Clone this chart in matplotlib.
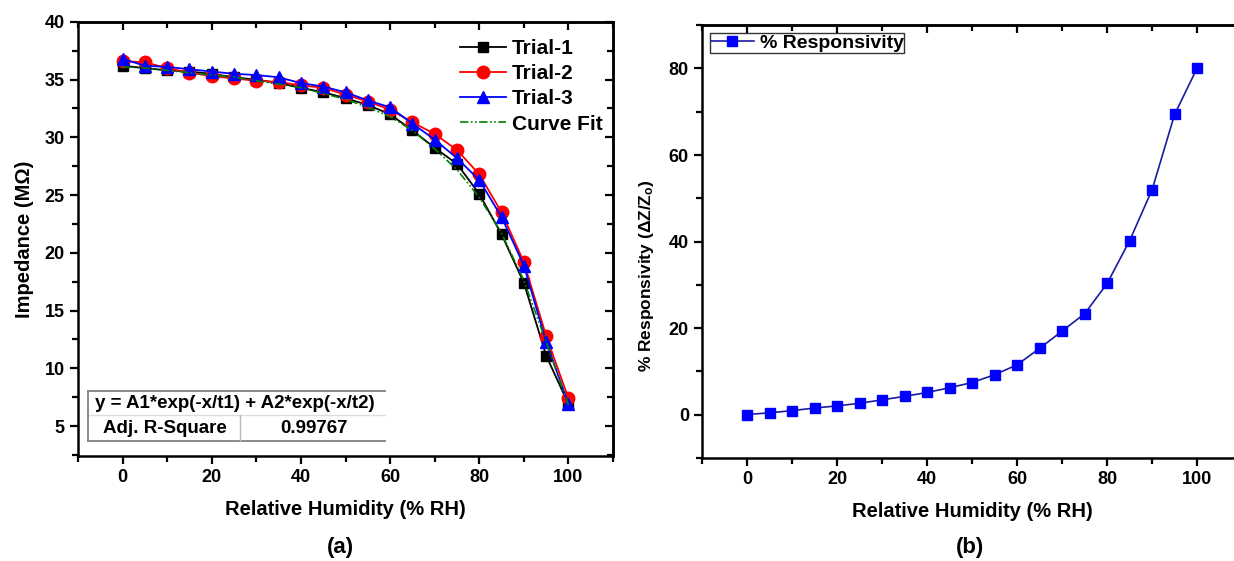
import numpy as np
import matplotlib
matplotlib.use("Agg")
import matplotlib.pyplot as plt
from matplotlib.ticker import MultipleLocator

plt.rcParams['font.family'] = ['Liberation Sans', 'DejaVu Sans']
plt.rcParams['font.weight'] = 'bold'
plt.rcParams['axes.labelweight'] = 'bold'
plt.rcParams['mathtext.fontset'] = 'custom'
plt.rcParams['mathtext.rm'] = 'Liberation Sans:bold'
plt.rcParams['mathtext.default'] = 'rm'

# data
rh = [0, 5, 10, 15, 20, 25, 30, 35, 40, 45, 50, 55, 60, 65, 70, 75, 80, 85, 90, 95, 100]
trial1 = [36.2, 36.0, 35.8, 35.7, 35.5, 35.2, 35.0, 34.7, 34.3, 33.9, 33.4, 32.8, 32.0,
          30.6, 29.1, 27.7, 25.1, 21.6, 17.4, 11.1, 6.9]
trial2 = [36.6, 36.5, 36.0, 35.6, 35.3, 35.1, 34.9, 34.8, 34.5, 34.3, 33.7, 33.1, 32.4,
          31.3, 30.3, 28.9, 26.8, 23.5, 19.2, 12.8, 7.4]
trial3 = [36.8, 36.2, 36.1, 35.9, 35.7, 35.5, 35.4, 35.2, 34.7, 34.4, 33.9, 33.2, 32.6,
          31.2, 29.8, 28.2, 26.3, 23.1, 18.9, 12.3, 6.9]
fit = [36.1, 36.0, 35.8, 35.6, 35.4, 35.2, 34.9, 34.6, 34.3, 33.8, 33.3, 32.6, 31.8,
       30.6, 29.0, 27.2, 24.8, 21.7, 17.6, 12.3, 6.8]
resp = [0.0, 0.4, 0.9, 1.5, 2.0, 2.6, 3.4, 4.2, 5.1, 6.2, 7.4, 9.2, 11.5, 15.3, 19.3,
        23.3, 30.3, 40.2, 52.0, 69.4, 80.1]

fig = plt.figure(figsize=(12.34, 5.61), dpi=100)
ax1 = fig.add_axes([0.0632, 0.187, 0.4336, 0.774])
ax2 = fig.add_axes([0.569, 0.184, 0.4376, 0.771])


def style(ax, ystep, yminor):
    for s in ax.spines.values():
        s.set_linewidth(1.8)
    ax.xaxis.set_major_locator(MultipleLocator(20))
    ax.xaxis.set_minor_locator(MultipleLocator(10))
    ax.yaxis.set_major_locator(MultipleLocator(ystep))
    ax.yaxis.set_minor_locator(MultipleLocator(yminor))
    ax.tick_params(which='major', direction='out', length=6, width=1.6, labelsize=13)
    ax.tick_params(which='minor', direction='out', length=4, width=1.6)
    top = ax.secondary_xaxis('top')
    right = ax.secondary_yaxis('right')
    top.xaxis.set_major_locator(MultipleLocator(20))
    top.xaxis.set_minor_locator(MultipleLocator(10))
    right.yaxis.set_major_locator(MultipleLocator(ystep))
    right.yaxis.set_minor_locator(MultipleLocator(yminor))
    for sec in (top, right):
        sec.tick_params(which='major', direction='in', length=6, width=1.6,
                        labeltop=False, labelright=False)
        sec.tick_params(which='minor', direction='in', length=4, width=1.6)
        for s in sec.spines.values():
            s.set_linewidth(1.8)
    for lab in ax.get_xticklabels() + ax.get_yticklabels():
        lab.set_fontweight('bold')


# (a) impedance
ax1.plot(rh, trial1, color='black', marker='s', ms=7.5, lw=1.3, label='Trial-1')
ax1.plot(rh, trial2, color='red', marker='o', ms=9, lw=1.3, label='Trial-2')
ax1.plot(rh, trial3, color='blue', marker='^', ms=9, lw=1.3, label='Trial-3')
ax1.plot(rh, fit, color='green', ls=(0, (5, 1.5, 1, 1.5, 1, 1.5)), lw=1.2, label='Curve Fit')
ax1.set_xlim(-10, 110)
ax1.set_ylim(2.4, 40)
style(ax1, 5, 2.5)
ax1.set_xlabel('Relative Humidity (% RH)', fontsize=14.5, labelpad=10)
ax1.set_ylabel('Impedance (M\u03a9)', fontsize=14.5, labelpad=8)
ax1.legend(loc='upper right', bbox_to_anchor=(1.0, 0.985), frameon=False, fontsize=15,
           handlelength=2.2, labelspacing=0.3, borderaxespad=0.1, handletextpad=0.3)

# fit table
tl = ax1.transAxes
ax1.plot([0.0187, 0.574], [0.150, 0.150], color='gray', lw=1.3, transform=tl)
ax1.plot([0.0187, 0.574], [0.0945, 0.0945], color='#dddddd', lw=1.0, transform=tl)
ax1.plot([0.0187, 0.574], [0.0346, 0.0346], color='gray', lw=1.3, transform=tl)
ax1.plot([0.0187, 0.0187], [0.0346, 0.150], color='gray', lw=1.3, transform=tl)
ax1.plot([0.303, 0.303], [0.0346, 0.0945], color='#bbbbbb', lw=1.0, transform=tl)
ax1.text(0.293, 0.121, 'y = A1*exp(-x/t1) + A2*exp(-x/t2)', transform=tl,
         ha='center', va='center', fontsize=13.5, fontweight='bold')
ax1.text(0.163, 0.064, 'Adj. R-Square', transform=tl, ha='center', va='center',
         fontsize=13.5, fontweight='bold')
ax1.text(0.441, 0.064, '0.99767', transform=tl, ha='center', va='center',
         fontsize=13.5, fontweight='bold')

# (b) responsivity
ax2.plot(rh, resp, color='#1a1aa0', lw=1.2, marker='s', ms=7.5, mfc='blue', mec='blue',
         label='% Responsivity')
ax2.set_xlim(-10, 110)
ax2.set_ylim(-10, 90)
style(ax2, 20, 10)
ax2.set_xlabel('Relative Humidity (% RH)', fontsize=14.5, labelpad=10)
ax2.set_ylabel('% Responsivity (\u0394Z/Z$_{o}$)', fontsize=12.5)
ax2.yaxis.set_label_coords(-0.085, 0.42)
leg = ax2.legend(loc='upper left', fontsize=14, handlelength=2.2, fancybox=False,
                 borderpad=0.05, borderaxespad=0.4, handletextpad=0.3)
leg.get_frame().set_edgecolor('black')
leg.get_frame().set_linewidth(1.0)

fig.text(340 / 1234, 1 - 547 / 561, '(a)', ha='center', va='center', fontsize=16,
         fontweight='bold')
fig.text(970 / 1234, 1 - 547 / 561, '(b)', ha='center', va='center', fontsize=16,
         fontweight='bold')

fig.savefig('out.png', dpi=100)
